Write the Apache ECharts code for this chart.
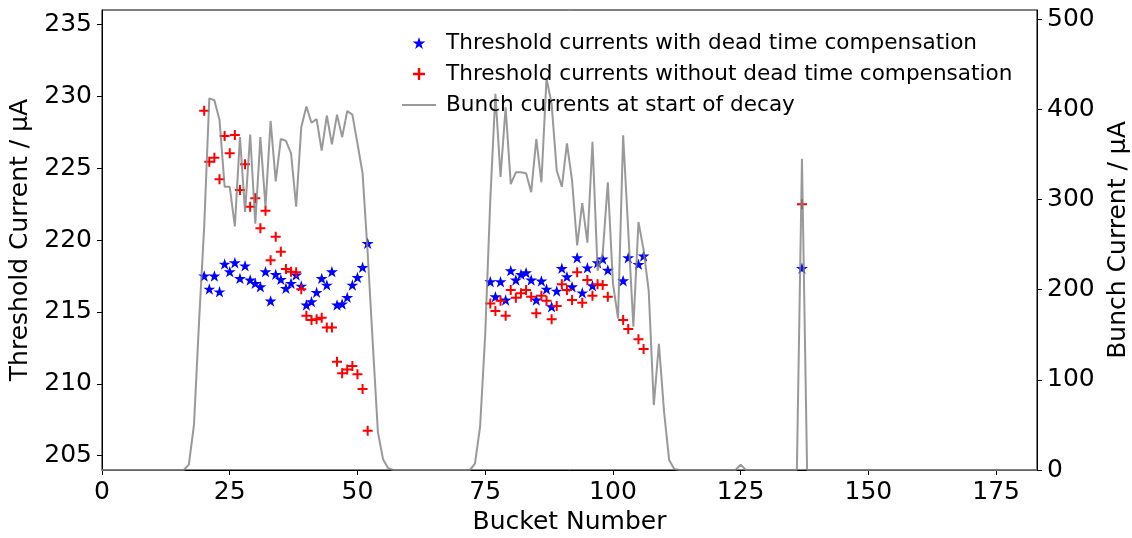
<!DOCTYPE html>
<html>
<head>
<meta charset="utf-8">
<script src="https://cdn.jsdelivr.net/npm/echarts@6/dist/echarts.min.js"></script>
<style>
html,body{margin:0;padding:0;background:#fff;}
#chart{width:1132px;height:538px;}
</style>
</head>
<body>
<div id="chart"></div>
<script>
// ---- data ----
const xTicks = [0, 25, 50, 75, 100, 125, 150, 175];
const leftTicks = [205, 210, 215, 220, 225, 230, 235];
const rightTicks = [0, 100, 200, 300, 400, 500];

const seriesNames = [
  'Threshold currents with dead time compensation',
  'Threshold currents without dead time compensation',
  'Bunch currents at start of decay'
];

// threshold currents with dead time compensation (blue stars)
const compBuckets = [20,21,22,23,24,25,26,27,28,29,30,31,32,33,34,35,36,37,38,39,40,41,42,43,44,45,46,47,48,49,50,51,52,
  76,77,78,79,80,81,82,83,84,85,86,87,88,89,90,91,92,93,94,95,96,97,98,99,102,103,105,106,137];
const compValues = [217.5,216.59,217.5,216.4,218.33,217.8,218.42,217.33,218.21,217.22,216.99,216.75,217.8,215.76,217.61,217.26,216.64,216.99,217.57,216.8,215.48,215.71,216.36,217.33,216.87,217.8,215.48,215.55,216.01,216.87,217.4,218.1,219.77,
  217.1,216.06,217.1,215.83,217.87,217.22,217.61,217.73,217.22,215.83,217.15,216.59,215.36,216.45,218.03,217.45,216.75,218.77,216.33,218.07,216.82,218.42,218.68,217.91,217.17,218.77,218.31,218.89,218.03];

// threshold currents without dead time compensation (red plus)
const noCompBuckets = [20,21,22,23,24,25,26,27,28,29,30,31,32,33,34,35,36,37,38,39,40,41,42,43,44,45,46,47,48,49,50,51,52,
  76,77,78,79,80,81,82,83,84,85,86,87,88,89,90,91,92,93,94,95,96,97,98,99,102,103,105,106,137];
const noCompValues = [229.0,225.45,225.73,224.22,227.23,226.03,227.3,223.48,225.27,222.32,222.9,220.81,222.04,218.6,220.23,219.19,217.98,217.8,217.75,216.57,214.73,214.43,214.48,214.6,213.92,213.92,211.53,210.73,211.0,211.23,210.66,209.63,206.73,
  215.59,215.06,215.78,214.73,216.52,215.99,216.29,216.52,216.06,214.9,216.12,215.78,214.48,215.41,216.92,216.52,215.83,217.75,215.64,217.22,216.12,216.92,216.87,216.06,214.43,213.81,213.09,212.42,222.48];

// bunch currents at start of decay, index = bucket number (0..183)
const bunchCurrent = [
  0,0,0,0,0,0,0,0,0,0, 0,0,0,0,0,0,0,6,50,165,
  270,412,410,388,314,314,270,369,286,372, 273,369,292,387,320,367,365,351,292,380,
  403,385,389,354,393,361,394,369,398,394, 362,329,240,140,42,12,2,0,0,0,
  0,0,0,0,0,0,0,0,0,0, 0,0,0,7,48,150,300,417,325,402,
  317,330,330,329,308,367,319,434,406,332, 314,362,321,249,296,252,364,221,240,319,
  207,168,371,265,159,275,244,199,72,140, 65,11,1,0,0,0,0,0,0,0,
  0,0,0,0,0,6,0,0,0,0, 0,0,0,0,0,0,0,345,0,0,
  0,0,0,0,0,0,0,0,0,0, 0,0,0,0,0,0,0,0,0,0,
  0,0,0,0,0,0,0,0,0,0, 0,0,0,0,0,0,0,0,0,0,
  0,0,0,0
];

// ---- build ----
const FONT = 'DejaVu Sans';
const STAR = 'path://M50,0 L61.2,34.5 L97.6,34.5 L68.2,55.9 L79.4,90.5 L50,69.1 L20.6,90.5 L31.8,55.9 L2.4,34.5 L38.8,34.5 Z';
const PLUS = 'path://M40,0 L60,0 L60,40 L100,40 L100,60 L60,60 L60,100 L40,100 L40,60 L0,60 L0,40 L40,40 Z';
const LINEICON = 'path://M0,0 H100 V6 H0 Z';
const GRAY = 'rgba(128,128,128,0.8)';

const compData = compBuckets.map((b, i) => [b, compValues[i]]);
const noCompData = noCompBuckets.map((b, i) => [b, noCompValues[i]]);
const bunchData = bunchCurrent.map((v, i) => [i, v]);

const axisCommon = {
  axisLine: { show: true, onZero: false, lineStyle: { color: '#000', width: 1 } },
  axisTick: { show: true, inside: false, length: 5, lineStyle: { color: '#000', width: 1 } },
  splitLine: { show: false },
  nameTextStyle: { fontFamily: FONT, fontSize: 25, color: '#000' }
};

const chart = echarts.init(document.getElementById('chart'), null, { renderer: 'canvas' });
chart.setOption({
  animation: false,
  backgroundColor: '#fff',
  grid: {
    left: 102, right: 95, top: 10, bottom: 68,
    containLabel: false, outerBoundsMode: 'none',
    show: true, borderColor: '#000', borderWidth: 1, backgroundColor: 'transparent'
  },
  legend: {
    orient: 'vertical', left: 402, top: 32, padding: 0,
    itemWidth: 34, itemHeight: 12, itemGap: 9,
    data: [
      { name: seriesNames[0] },
      { name: seriesNames[1] },
      { name: seriesNames[2], icon: LINEICON }
    ],
    textStyle: { fontFamily: FONT, fontSize: 21.6, color: '#000', lineHeight: 22, padding: [0, 0, 0, 5] }
  },
  xAxis: Object.assign({}, axisCommon, {
    type: 'value', min: 0, max: 183,
    name: 'Bucket Number', nameLocation: 'middle', nameGap: 37,
    axisTick: Object.assign({}, axisCommon.axisTick, { customValues: xTicks }),
    axisLabel: { customValues: xTicks, fontFamily: FONT, fontSize: 25, color: '#000', margin: 10 }
  }),
  yAxis: [
    Object.assign({}, axisCommon, {
      type: 'value', position: 'left', min: 204, max: 236,
      name: 'Threshold Current / µA', nameLocation: 'middle', nameGap: 46, nameRotate: 90,
      axisTick: Object.assign({}, axisCommon.axisTick, { customValues: leftTicks }),
      axisLabel: { customValues: leftTicks, fontFamily: FONT, fontSize: 25, color: '#000', margin: 10 }
    }),
    Object.assign({}, axisCommon, {
      type: 'value', position: 'right', min: 0, max: 510,
      name: 'Bunch Current / µA', nameLocation: 'middle', nameGap: 55, nameRotate: 90,
      axisTick: Object.assign({}, axisCommon.axisTick, { customValues: rightTicks }),
      axisLabel: { customValues: rightTicks, fontFamily: FONT, fontSize: 25, color: '#000', margin: 10 }
    })
  ],
  series: [
    {
      name: seriesNames[0], type: 'scatter', yAxisIndex: 0, data: compData,
      symbol: STAR, symbolSize: 12, symbolKeepAspect: true,
      itemStyle: { color: '#0000ff', opacity: 1 }
    },
    {
      name: seriesNames[1], type: 'scatter', yAxisIndex: 0, data: noCompData,
      symbol: PLUS, symbolSize: 10, symbolKeepAspect: true,
      itemStyle: { color: '#ff0000', opacity: 1 }
    },
    {
      name: seriesNames[2], type: 'line', yAxisIndex: 1, data: bunchData,
      symbol: 'none', showSymbol: false,
      lineStyle: { color: GRAY, width: 2 },
      itemStyle: { color: GRAY }
    }
  ]
});
</script>
</body>
</html>
